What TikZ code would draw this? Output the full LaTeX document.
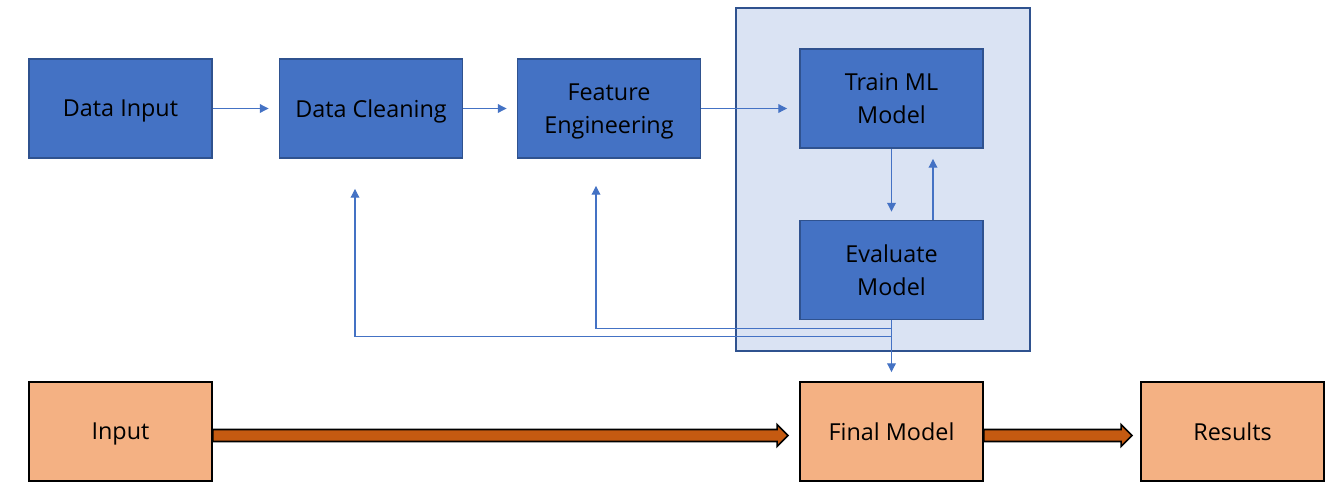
\documentclass[tikz,border=0pt]{standalone}
\usepackage{fontspec}
\setmainfont{Open Sans}
\usetikzlibrary{arrows.meta,calc}
\definecolor{boxblue}{HTML}{4472C4}
\definecolor{boxedge}{HTML}{2F528F}
\definecolor{panel}{HTML}{DAE3F3}
\definecolor{peach}{HTML}{F4B183}
\definecolor{rust}{HTML}{C55A11}
\tikzset{
  bluebox/.style={draw=boxedge, fill=boxblue, line width=1.1pt, minimum width=3.66cm, minimum height=1.98cm, align=center, font=\fontsize{13.3}{18.5}\selectfont, inner sep=0pt, text depth=0pt},
  peachbox/.style={draw=black, fill=peach, line width=1.1pt, minimum width=3.66cm, minimum height=1.98cm, align=center, font=\fontsize{13.3}{18.5}\selectfont, inner sep=0pt, text depth=0pt},
  thin/.style={draw=boxblue, line width=0.6pt, -{Triangle[length=5pt,width=5pt]}},
  fat/.style={draw=black, fill=rust, line width=0.9pt, line join=miter}
}
\begin{document}
\begin{tikzpicture}[x=0.02cm,y=-0.02cm]
\useasboundingbox (0,0) rectangle (1340,498);
\node[draw=boxedge, fill=panel, line width=1.1pt, minimum width=5.88cm, minimum height=6.86cm, inner sep=0pt] (panel) at (883,179.5) {};
\node[bluebox] (din) at (120.5,108.5) {Data Input};
\node[bluebox] (dcl) at (371,108.5) {Data Cleaning};
\node[bluebox] (fen) at (609,108.5) {Feature\\Engineering};
\node[bluebox] (trn) at (891.5,98.5) {Train ML\\Model};
\node[bluebox] (evl) at (891.5,270) {Evaluate\\Model};
\node[peachbox] (inp) at (120.5,431.5) {Input};
\node[peachbox] (fin) at (891.5,431.5) {Final Model};
\node[peachbox] (res) at (1232.5,431.5) {Results};
% thin arrows
\draw[thin, shorten >=10*0.02cm] (din.east) -- (dcl.west);
\draw[thin, shorten >=10*0.02cm] (dcl.east) -- (fen.west);
\draw[thin, shorten >=12*0.02cm] (fen.east) -- (fen.east -| trn.west);
\draw[thin, shorten >=8*0.02cm] (trn.south) -- (evl.north);
\draw[thin, shorten >=10*0.02cm] ([xshift=41.5*0.02cm]evl.north) -- ([xshift=41.5*0.02cm]trn.south);
\draw[thin, shorten >=9*0.02cm] (evl.south) -- (fin.north);
\coordinate (fb1) at ($(evl.south)+(-1,8)$);
\coordinate (fb2) at ($(evl.south)+(-1,16)$);
\draw[thin, shorten >=27*0.02cm] (fb1) -| ([xshift=-13*0.02cm]fen.south);
\draw[thin, shorten >=30*0.02cm] (fb2) -| ([xshift=-16*0.02cm]dcl.south);
% fat arrows
\draw[fat] ($(inp.east)+(0,-2)$) -- ($(fin.west)+(-22,-2)$) -- ($(fin.west)+(-22,-7)$) -- ($(fin.west)+(-11,4)$) -- ($(fin.west)+(-22,15)$) -- ($(fin.west)+(-22,10)$) -- ($(inp.east)+(0,10)$) -- cycle;
\draw[fat] ($(fin.east)+(0,-2)$) -- ($(res.west)+(-19,-2)$) -- ($(res.west)+(-19,-7)$) -- ($(res.west)+(-8,4)$) -- ($(res.west)+(-19,15)$) -- ($(res.west)+(-19,10)$) -- ($(fin.east)+(0,10)$) -- cycle;
\end{tikzpicture}
\end{document}
